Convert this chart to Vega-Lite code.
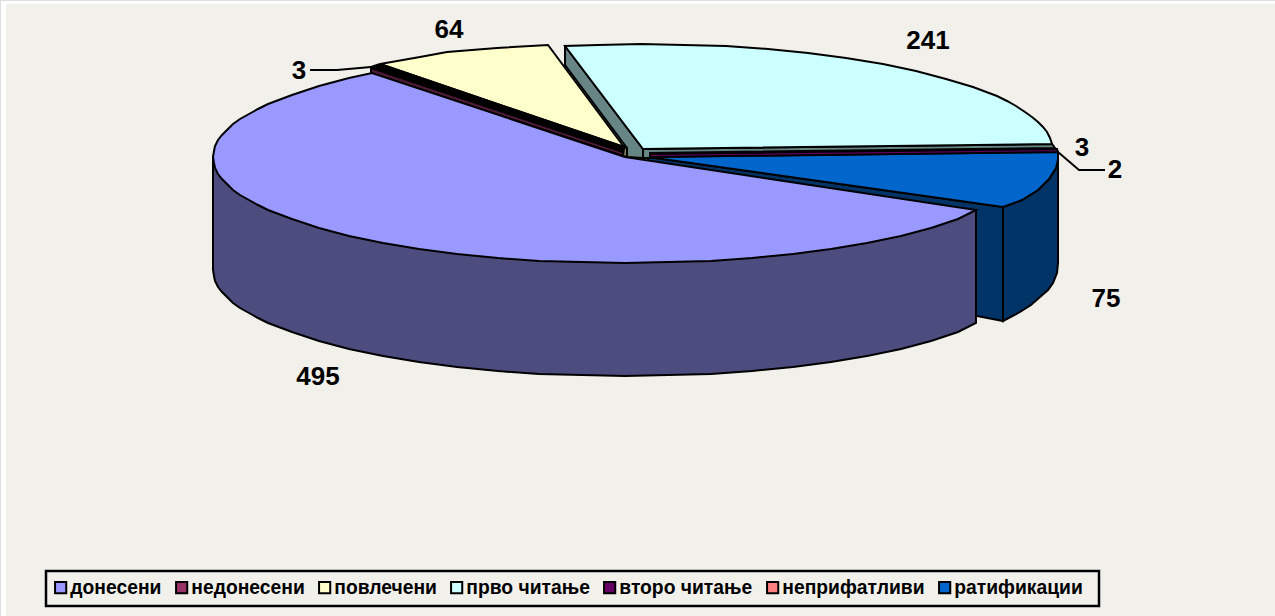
{"$schema":"https://vega.github.io/schema/vega-lite/v6.json","width":1275,"height":616,"padding":0,"autosize":{"type":"none"},"background":"#ffffff",
"datasets":{
"slices":[{"c":"донесени","v":495,"lx":-307,"ly":-220},{"c":"недонесени","v":3,"lx":-326,"ly":86},{"c":"повлечени","v":64,"lx":-176,"ly":127},{"c":"прво читање","v":241,"lx":303,"ly":116},{"c":"второ читање","v":3,"lx":457,"ly":9},{"c":"неприфатливи","v":2,"lx":490,"ly":-13},{"c":"ратификации","v":75,"lx":481,"ly":-142}],
"leaders":[{"s":"a","i":0,"x":-315,"y":87},{"s":"a","i":1,"x":-288,"y":87},{"s":"a","i":2,"x":-254,"y":90},{"s":"b","i":0,"x":433,"y":5},{"s":"b","i":1,"x":454,"y":-13},{"s":"b","i":2,"x":480,"y":-13}],
"outline":[
{"s":"blue-cut","i":0,"x":23,"y":0},{"s":"blue-cut","i":1,"x":378,"y":-50},{"s":"blue-cut","i":2,"x":378,"y":-164},{"s":"blue-cut","i":3,"x":352,"y":-159},{"s":"blue-cut","i":4,"x":23,"y":-113},{"s":"blue-cut","i":5,"x":23,"y":0},
{"s":"blue-side","i":0,"x":378,"y":-50},{"s":"blue-side","i":1,"x":378,"y":-164},{"s":"blue-side","i":2,"x":395,"y":-155},{"s":"blue-side","i":2.5,"x":406,"y":-148},{"s":"blue-side","i":3,"x":415,"y":-140},{"s":"blue-side","i":3.5,"x":423,"y":-133},{"s":"blue-side","i":4,"x":428,"y":-126},{"s":"blue-side","i":4.5,"x":432,"y":-116},{"s":"blue-side","i":5,"x":433,"y":-106},{"s":"blue-side","i":6,"x":433,"y":-3},{"s":"blue-side","i":7,"x":431,"y":-11},{"s":"blue-side","i":8,"x":424,"y":-22},{"s":"blue-side","i":9,"x":413,"y":-33},{"s":"blue-side","i":10,"x":397,"y":-43},{"s":"blue-side","i":11,"x":378,"y":-50},
{"s":"blue-top","i":0,"x":23,"y":0},{"s":"blue-top","i":1,"x":433,"y":5},{"s":"blue-top","i":2,"x":433,"y":-3},{"s":"blue-top","i":3,"x":431,"y":-11},{"s":"blue-top","i":4,"x":424,"y":-22},{"s":"blue-top","i":5,"x":413,"y":-33},{"s":"blue-top","i":6,"x":397,"y":-43},{"s":"blue-top","i":7,"x":378,"y":-50},{"s":"blue-top","i":8,"x":23,"y":0},
{"s":"plum-strip","i":0,"x":25,"y":3},{"s":"plum-strip","i":1,"x":432,"y":8},{"s":"plum-strip","i":2,"x":433,"y":5},{"s":"plum-strip","i":3,"x":25,"y":0},{"s":"plum-strip","i":4,"x":25,"y":3},
{"s":"grey-strip","i":0,"x":18,"y":8},{"s":"grey-strip","i":1,"x":427,"y":13},{"s":"grey-strip","i":2,"x":430,"y":9},{"s":"grey-strip","i":3,"x":25,"y":4},{"s":"grey-strip","i":4,"x":25,"y":-1},{"s":"grey-strip","i":5,"x":18,"y":-1},{"s":"grey-strip","i":6,"x":18,"y":8},
{"s":"grey-side","i":0,"x":-60,"y":111},{"s":"grey-side","i":1,"x":-60,"y":92},{"s":"grey-side","i":2,"x":2,"y":9},{"s":"grey-side","i":3,"x":2,"y":0},{"s":"grey-side","i":4,"x":18,"y":-1},{"s":"grey-side","i":5,"x":18,"y":8},{"s":"grey-side","i":6,"x":-60,"y":111},
{"s":"cyan-top","i":0,"x":18,"y":8},{"s":"cyan-top","i":1,"x":-60,"y":111},{"s":"cyan-top","i":2,"x":-27,"y":112},{"s":"cyan-top","i":3,"x":16,"y":113},{"s":"cyan-top","i":4,"x":59,"y":112},{"s":"cyan-top","i":5,"x":101,"y":111},{"s":"cyan-top","i":6,"x":143,"y":108},{"s":"cyan-top","i":7,"x":183,"y":104},{"s":"cyan-top","i":8,"x":221,"y":99},{"s":"cyan-top","i":9,"x":258,"y":93},{"s":"cyan-top","i":10,"x":291,"y":86},{"s":"cyan-top","i":11,"x":321,"y":78},{"s":"cyan-top","i":12,"x":348,"y":70},{"s":"cyan-top","i":13,"x":372,"y":61},{"s":"cyan-top","i":13.5,"x":382,"y":56},{"s":"cyan-top","i":14,"x":391,"y":51},{"s":"cyan-top","i":14.5,"x":400,"y":45},{"s":"cyan-top","i":15,"x":407,"y":40},{"s":"cyan-top","i":15.5,"x":413,"y":35},{"s":"cyan-top","i":16,"x":418,"y":30},{"s":"cyan-top","i":16.5,"x":422,"y":25},{"s":"cyan-top","i":17,"x":425,"y":19},{"s":"cyan-top","i":18,"x":427,"y":13},{"s":"cyan-top","i":19,"x":18,"y":8},
{"s":"yellow-side","i":0,"x":-1,"y":10},{"s":"yellow-side","i":1,"x":2,"y":9},{"s":"yellow-side","i":2,"x":2,"y":0},{"s":"yellow-side","i":3,"x":-2,"y":1},{"s":"yellow-side","i":4,"x":-1,"y":10},
{"s":"yellow-top","i":0,"x":-1,"y":10},{"s":"yellow-top","i":1,"x":-245,"y":93},{"s":"yellow-top","i":2,"x":-205,"y":100},{"s":"yellow-top","i":3,"x":-178,"y":105},{"s":"yellow-top","i":4,"x":-128,"y":109},{"s":"yellow-top","i":5,"x":-77,"y":112},{"s":"yellow-top","i":6,"x":-1,"y":10},
{"s":"black-band","i":0,"x":-245,"y":93},{"s":"black-band","i":1,"x":-254,"y":90},{"s":"black-band","i":2,"x":-2,"y":5},{"s":"black-band","i":3,"x":-1,"y":10},{"s":"black-band","i":4,"x":-245,"y":93},
{"s":"maroon-band","i":0,"x":-254,"y":89},{"s":"maroon-band","i":1,"x":-254,"y":84},{"s":"maroon-band","i":2,"x":-2,"y":1},{"s":"maroon-band","i":3,"x":-2,"y":5},{"s":"maroon-band","i":4,"x":-254,"y":89},
{"s":"purple-side","i":0,"x":351,"y":-53},{"s":"purple-side","i":1,"x":351,"y":-166},{"s":"purple-side","i":2,"x":333,"y":-175},{"s":"purple-side","i":3,"x":306,"y":-184},{"s":"purple-side","i":4,"x":276,"y":-192},{"s":"purple-side","i":5,"x":242,"y":-199},{"s":"purple-side","i":6,"x":206,"y":-205},{"s":"purple-side","i":7,"x":168,"y":-210},{"s":"purple-side","i":8,"x":127,"y":-214},{"s":"purple-side","i":9,"x":86,"y":-217},{"s":"purple-side","i":10,"x":43,"y":-218},{"s":"purple-side","i":11,"x":0,"y":-219},{"s":"purple-side","i":12,"x":-43,"y":-218},{"s":"purple-side","i":13,"x":-86,"y":-217},{"s":"purple-side","i":14,"x":-127,"y":-214},{"s":"purple-side","i":15,"x":-168,"y":-210},{"s":"purple-side","i":16,"x":-206,"y":-205},{"s":"purple-side","i":17,"x":-242,"y":-199},{"s":"purple-side","i":18,"x":-276,"y":-192},{"s":"purple-side","i":19,"x":-306,"y":-184},{"s":"purple-side","i":20,"x":-333,"y":-175},{"s":"purple-side","i":21,"x":-357,"y":-166},{"s":"purple-side","i":21.5,"x":-367,"y":-161},{"s":"purple-side","i":22,"x":-376,"y":-156},{"s":"purple-side","i":22.5,"x":-385,"y":-151},{"s":"purple-side","i":23,"x":-392,"y":-146},{"s":"purple-side","i":23.5,"x":-398,"y":-140},{"s":"purple-side","i":24,"x":-403,"y":-135},{"s":"purple-side","i":24.5,"x":-407,"y":-130},{"s":"purple-side","i":25,"x":-410,"y":-124},{"s":"purple-side","i":25.5,"x":-411,"y":-119},{"s":"purple-side","i":26,"x":-412,"y":-113},{"s":"purple-side","i":27,"x":-412,"y":0},{"s":"purple-side","i":28,"x":0,"y":-106},{"s":"purple-side","i":29,"x":351,"y":-53},
{"s":"purple-top","i":0,"x":0,"y":0},{"s":"purple-top","i":1,"x":-253,"y":84},{"s":"purple-top","i":2,"x":-276,"y":79},{"s":"purple-top","i":3,"x":-306,"y":71},{"s":"purple-top","i":4,"x":-333,"y":62},{"s":"purple-top","i":5,"x":-357,"y":53},{"s":"purple-top","i":5.5,"x":-367,"y":48},{"s":"purple-top","i":6,"x":-376,"y":43},{"s":"purple-top","i":6.5,"x":-385,"y":38},{"s":"purple-top","i":7,"x":-392,"y":33},{"s":"purple-top","i":7.5,"x":-398,"y":27},{"s":"purple-top","i":8,"x":-403,"y":22},{"s":"purple-top","i":8.5,"x":-407,"y":17},{"s":"purple-top","i":9,"x":-410,"y":11},{"s":"purple-top","i":9.5,"x":-411,"y":6},{"s":"purple-top","i":10,"x":-412,"y":0},{"s":"purple-top","i":10.5,"x":-411,"y":-6},{"s":"purple-top","i":11,"x":-410,"y":-11},{"s":"purple-top","i":11.5,"x":-407,"y":-17},{"s":"purple-top","i":12,"x":-403,"y":-22},{"s":"purple-top","i":12.5,"x":-398,"y":-27},{"s":"purple-top","i":13,"x":-392,"y":-33},{"s":"purple-top","i":13.5,"x":-385,"y":-38},{"s":"purple-top","i":14,"x":-376,"y":-43},{"s":"purple-top","i":14.5,"x":-367,"y":-48},{"s":"purple-top","i":15,"x":-357,"y":-53},{"s":"purple-top","i":16,"x":-333,"y":-62},{"s":"purple-top","i":17,"x":-306,"y":-71},{"s":"purple-top","i":18,"x":-276,"y":-79},{"s":"purple-top","i":19,"x":-242,"y":-86},{"s":"purple-top","i":20,"x":-206,"y":-92},{"s":"purple-top","i":21,"x":-168,"y":-97},{"s":"purple-top","i":22,"x":-127,"y":-101},{"s":"purple-top","i":23,"x":-86,"y":-104},{"s":"purple-top","i":24,"x":-43,"y":-105},{"s":"purple-top","i":25,"x":0,"y":-106},{"s":"purple-top","i":26,"x":43,"y":-105},{"s":"purple-top","i":27,"x":86,"y":-104},{"s":"purple-top","i":28,"x":127,"y":-101},{"s":"purple-top","i":29,"x":168,"y":-97},{"s":"purple-top","i":30,"x":206,"y":-92},{"s":"purple-top","i":31,"x":242,"y":-86},{"s":"purple-top","i":32,"x":276,"y":-79},{"s":"purple-top","i":33,"x":306,"y":-71},{"s":"purple-top","i":34,"x":333,"y":-62},{"s":"purple-top","i":35,"x":351,"y":-53},{"s":"purple-top","i":36,"x":0,"y":0}
]},
"resolve":{"scale":{"fill":"independent"}},
"layer":[
{"data":{"values":[{}]},"mark":{"type":"rect","fill":"#f1f0eb"},"encoding":{"x":{"datum":-619,"type":"quantitative","scale":{"domain":[-625,650],"range":[0,1275],"nice":false,"zero":false},"axis":null},"x2":{"datum":650},"y":{"datum":153,"type":"quantitative","scale":{"domain":[-459,157],"range":[616,0],"nice":false,"zero":false},"axis":null},"y2":{"datum":-459}}},
{"data":{"values":[{}]},"mark":{"type":"rect","fill":null,"fillOpacity":0,"stroke":"#000000","strokeWidth":2.5},"encoding":{"x":{"datum":-579,"type":"quantitative","scale":{"domain":[-625,650],"range":[0,1275],"nice":false,"zero":false},"axis":null},"x2":{"datum":474},"y":{"datum":-414,"type":"quantitative","scale":{"domain":[-459,157],"range":[616,0],"nice":false,"zero":false},"axis":null},"y2":{"datum":-449}}},
{"data":{"name":"outline"},"mark":{"type":"line","stroke":"#000000","strokeWidth":2,"strokeJoin":"miter","clip":false},"encoding":{"x":{"field":"x","type":"quantitative","scale":{"domain":[-625,650],"range":[0,1275],"nice":false,"zero":false},"axis":null},"y":{"field":"y","type":"quantitative","scale":{"domain":[-459,157],"range":[616,0],"nice":false,"zero":false},"axis":null},"order":{"field":"i"},"detail":{"field":"s"},"fill":{"field":"s","type":"nominal","legend":null,"scale":{"domain":["blue-cut","blue-side","blue-top","plum-strip","grey-strip","grey-side","cyan-top","yellow-side","yellow-top","black-band","maroon-band","purple-side","purple-top"],"range":["#003366","#003366","#0066cc","#660066","#668584","#668584","#ccffff","#7f7f66","#ffffcc","#000000","#4f1a38","#4c4c7f","#9999ff"]}}}},
{"data":{"name":"leaders"},"mark":{"type":"line","stroke":"#000000","strokeWidth":2},"encoding":{"x":{"field":"x","type":"quantitative","scale":{"domain":[-625,650],"range":[0,1275],"nice":false,"zero":false},"axis":null},"y":{"field":"y","type":"quantitative","scale":{"domain":[-459,157],"range":[616,0],"nice":false,"zero":false},"axis":null},"order":{"field":"i"},"detail":{"field":"s"}}},
{"data":{"name":"slices"},"mark":{"type":"text","font":"Liberation Sans","fontWeight":"bold","fontSize":26,"fill":"#000000","align":"center","baseline":"middle"},"encoding":{"x":{"field":"lx","type":"quantitative","scale":{"domain":[-625,650],"range":[0,1275],"nice":false,"zero":false},"axis":null},"y":{"field":"ly","type":"quantitative","scale":{"domain":[-459,157],"range":[616,0],"nice":false,"zero":false},"axis":null},"text":{"field":"v"}}},
{"data":{"name":"slices"},"mark":{"type":"point","filled":true,"size":0,"opacity":1,"stroke":"#000000"},"encoding":{"fill":{"field":"c","type":"nominal","sort":null,"scale":{"domain":["донесени","недонесени","повлечени","прво читање","второ читање","неприфатливи","ратификации"],"range":["#9999ff","#993366","#ffffcc","#ccffff","#660066","#ff8080","#0066cc"]},"legend":{"title":null,"orient":"none","legendX":46,"legendY":573,"direction":"horizontal","columns":7,"gridAlign":"each","symbolType":"square","symbolSize":125,"symbolOpacity":1,"symbolStrokeColor":"#000000","symbolStrokeWidth":2,"labelFont":"Liberation Sans","labelFontSize":19.3,"labelFontWeight":"bold","labelColor":"#000000","labelOffset":0,"columnPadding":10,"padding":5,"labelLimit":300}}}}
]}
